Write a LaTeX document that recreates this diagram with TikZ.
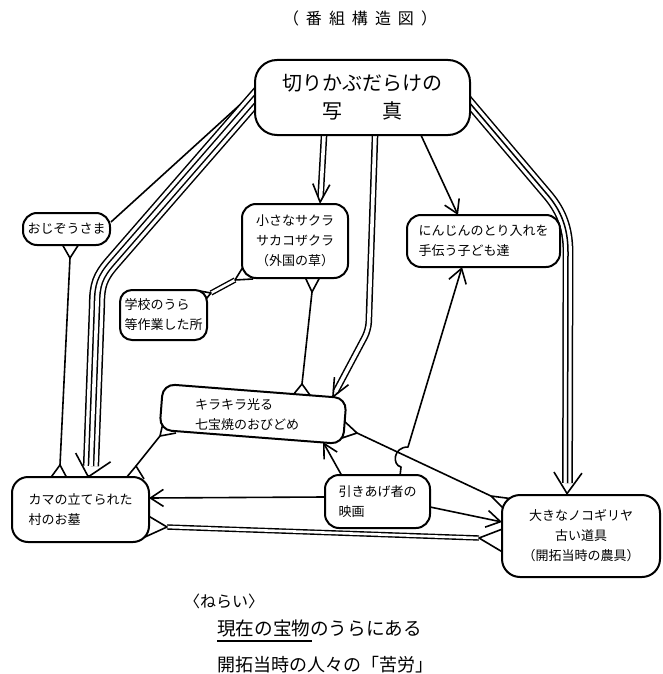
\documentclass[tikz,border=0pt]{standalone}
\usepackage{fontspec}
\newfontfamily\cjk{Noto Sans CJK JP}
\usetikzlibrary{arrows.meta,calc}
\pgfdeclarelayer{bg}
\pgfsetlayers{bg,main}
\newcommand\yfork[3]{\draw[conn] (#2) -- (#1) -- (#3);}
\newcommand\vtip[4]{\draw[conn,-{Straight Barb[length=#3,width=#4]}] ($(#2)!3pt!(#1)$) -- (#2);}
\begin{document}
\begin{tikzpicture}[x=1pt,y=-1pt,
  nbox/.style={draw, line width=2pt, fill=white, rounded corners=#1, inner sep=0pt,
     font=\cjk\fontsize{13}{20}\selectfont, align=left},
  nbox/.default=13pt,
  conn/.style={line width=1.6pt, line join=round},
  dline/.style={draw, double, double distance=3.6pt, line width=1.5pt},
  dthin/.style={draw, double, double distance=2.6pt, line width=1.4pt},
  tline/.style={draw, line width=10.8pt, postaction={draw=white, line width=7.8pt}, postaction={draw=black, line width=1.5pt}},
  qline/.style={draw, line width=16.2pt, postaction={draw=white,line width=13.2pt}, postaction={draw=black,line width=6.6pt}, postaction={draw=white,line width=3.6pt}},
  lbl/.style={inner sep=0pt, font=\cjk\fontsize{13}{20}\selectfont, align=left}
]
\useasboundingbox (0,0) rectangle (662,674);

% ---------- nodes ----------
\node[font=\cjk\fontsize{16}{16}\selectfont, inner sep=0pt] (title) at (360,18)
  {（\hspace{7pt}番\hspace{7pt}組\hspace{7pt}構\hspace{7pt}造\hspace{7pt}図\hspace{7pt}）};

\node[nbox=22pt, minimum width=215pt, minimum height=75pt, align=center,
      font=\cjk\fontsize{20}{28}\selectfont] (top) at (362.5,97.5) {切りかぶだらけの\\写　　真};
\node[nbox=14pt, minimum width=87pt, minimum height=32pt] (ojizo) at (66.5,229) {おじぞうさま};
\node[nbox=14pt, minimum width=106pt, minimum height=74pt, align=center] (sakura) at (295,241)
  {小さなサクラ\\サカコザクラ\\（外国の草）};
\node[nbox=14pt, minimum width=153pt, minimum height=52pt] (ninjin) at (483.5,241)
  {にんじんのとり入れを\\手伝う子ども達};
\node[nbox=12pt, minimum width=87pt, minimum height=50pt] (gakko) at (163.5,315)
  {学校のうら\\等作業した所};
\node[nbox=12pt, minimum width=184pt, minimum height=46pt, rotate=-4.4] (kira) at (253,414) {};
\node[lbl] (kiratext) at (247,415) {キラキラ光る\\七宝焼のおびどめ};
\node[nbox=16pt, minimum width=137pt, minimum height=65pt] (kama) at (80.5,509.5)
  {カマの立てられた\\村のお墓};
\node[nbox=14pt, minimum width=105pt, minimum height=53pt] (eiga) at (377.5,501.5)
  {引きあげ者の\\映画};
\node[nbox=18pt, minimum width=158pt, minimum height=82pt, align=center] (noko) at (581,536)
  {大きなノコギリヤ\\古い道具\\（開拓当時の農具）};

\node[font=\cjk\fontsize{16}{16}\selectfont, inner sep=0pt] (nerai) at (224,601) {〈ねらい〉};
\node[anchor=west, font=\cjk\fontsize{18.6}{18.6}\selectfont, inner sep=0pt] (aim1) at (217,628)
  {現在の宝物のうらにある};
\node[anchor=west, font=\cjk\fontsize{18}{18}\selectfont, inner sep=0pt] (aim2) at (217,665)
  {開拓当時の人々の「苦労」};
\draw[line width=1.3pt] ($(aim1.west)+(0,13)$) -- ($(aim1.west)+(95,13)$);

% ---------- connectors ----------
\begin{pgfonlayer}{bg}
% top -> ojizo
\draw[conn] (top.west |- 0,92) -- (ojizo.east |- 0,222);
% top -> kama (quadruple)
\draw[qline] (266,86) -- (112,263) .. controls (100,277) and (97,285) .. (97,305) -- (91,466);
\vtip{91,466}{88,478}{20pt}{36pt}
% top -> sakura (double)
\draw[dline] (top.south -| 324,0) -- (320.6,197);
\vtip{320.6,195}{320,204}{18pt}{17pt}
% top -> kira (double)
\draw[dline, rounded corners=8pt] (top.south -| 375,0) -- (368.5,330) -- (335.5,392);
\vtip{335.5,392}{332,398.5}{18pt}{16pt}
% top -> ninjin
\draw[conn,-{Straight Barb[length=13pt,width=16pt]}] (420,133) -- (458,215);
% top -> noko (triple)
\draw[tline] (463,95) -- (546,193) .. controls (560,209) and (568,226) .. (568,252) -- (567.5,483);
\vtip{567.5,483}{567,495}{21pt}{28pt}
% ojizo -> kama
\draw[conn] (70,258) -- (60,465);
\yfork{70,258}{62,244}{79,244}
\yfork{60,465}{49,480}{68,480}
% sakura -> gakko
\draw[dthin] (235,280) -- (211,293);
\yfork{235,280}{243,267}{253,279}
\yfork{211,293}{200,291}{206.5,298.5}
% sakura -> kira
\draw[conn] (312,292) -- (302,384);
\yfork{312,292}{305,277}{320,277}
\yfork{302,384}{293,395}{311,396.5}
% kira -> kama
\draw[conn] (160,436) -- (136,466);
\yfork{160,436}{163,423}{176,433}
\yfork{136,466}{126,478}{144,479}
% eiga -> kira
\draw[conn,-{Straight Barb[length=14pt,width=15pt]}] (342,476) -- (323,442);
% eiga -> ninjin (with hop)
\draw[conn,-{Straight Barb[length=14pt,width=18pt]}] (400,476) -- (401,467)
  .. controls (392,465) and (393,447) .. (408,447) -- (462,267);
% kira -> noko
\draw[conn] (357,433) -- (491,496);
\yfork{357,433}{343,420}{342,438}
\yfork{491,496}{510,498.5}{503,508}
% eiga -> kama
\draw[conn,-{Straight Barb[length=13pt,width=17pt]}] (eiga.west |- 0,497) -- (149,498);
% eiga -> noko
\draw[conn,-{Straight Barb[length=14pt,width=17pt]}] (430,507) -- (502,522);
% kama -- noko (double)
\draw[dthin] (167,527) -- (479,538);
\yfork{167,527}{148.5,516}{145,537}
\yfork{479,538}{502.5,529}{502.5,552}
\end{pgfonlayer}
\end{tikzpicture}
\end{document}
